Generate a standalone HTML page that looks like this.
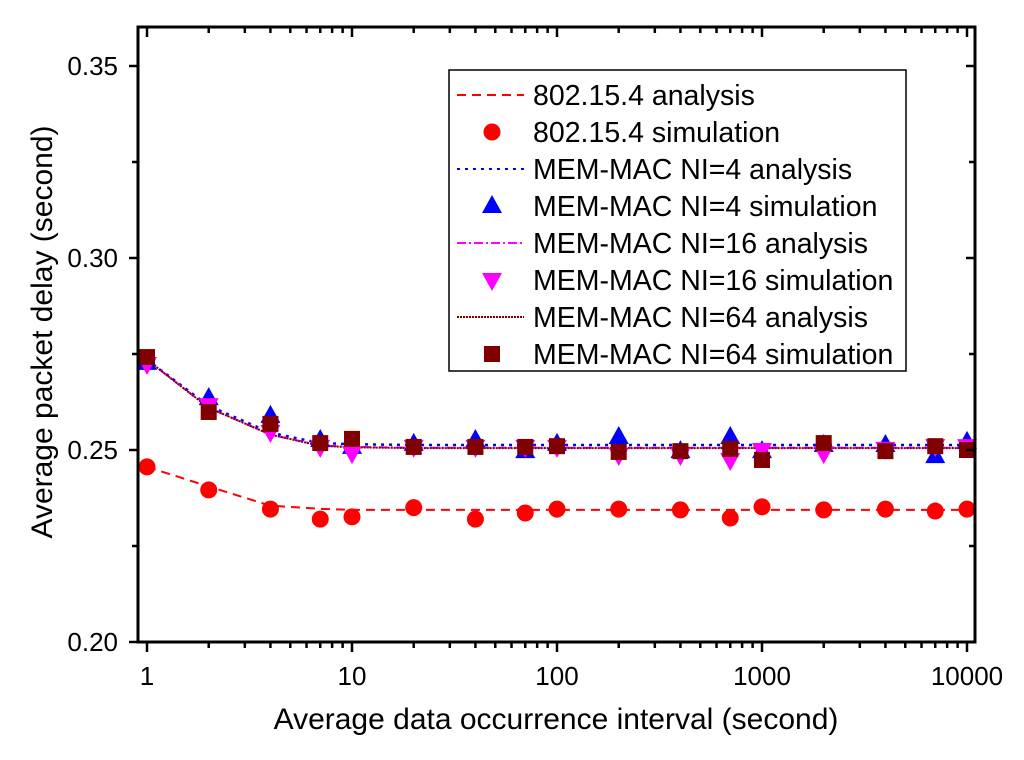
<!DOCTYPE html>
<html><head><meta charset="utf-8"><style>
body{margin:0;background:#fff;}
svg{display:block;font-family:"Liberation Sans",Arial,sans-serif;}
</style></head><body>
<svg id="chart" width="1024" height="760" viewBox="0 0 1024 760">
<g id="marks"></g>
<g id="axes"></g>
<g id="legend"></g>
</svg>
<script>
const xs = [1,2,4,7,10,20,40,70,100,200,400,700,1000,2000,4000,7000,10000];
const redAna = [0.2456,0.2405,0.2355,0.2347,0.2344,0.2344,0.2344,0.2344,0.2344,0.2344,0.2344,0.2344,0.2344,0.2344,0.2344,0.2344,0.2344];
const redSim = [0.2456,0.2396,0.2346,0.2320,0.2326,0.2350,0.2320,0.2336,0.2346,0.2346,0.2344,0.2323,0.2352,0.2344,0.2346,0.2341,0.2346];
const blueAna = [0.2735,0.2615,0.2545,0.2518,0.2515,0.2513,0.2513,0.2513,0.2513,0.2513,0.2513,0.2513,0.2513,0.2513,0.2513,0.2513,0.2513];
const blueSim = [0.2727,0.2635,0.2589,0.2526,0.2508,0.2516,0.2526,0.2497,0.2516,0.2534,0.2497,0.2534,0.2497,0.2513,0.2513,0.2484,0.2521];
const magAna = [0.2735,0.2610,0.2540,0.2512,0.2508,0.2506,0.2506,0.2506,0.2506,0.2506,0.2506,0.2506,0.2506,0.2506,0.2506,0.2506,0.2506];
const magSim = [0.2724,0.2617,0.2547,0.2508,0.2492,0.2508,0.2508,0.2508,0.2508,0.2487,0.2487,0.2474,0.2500,0.2492,0.2503,0.2510,0.2510];
const brnAna = [0.2735,0.2610,0.2540,0.2511,0.2507,0.2505,0.2505,0.2505,0.2505,0.2505,0.2505,0.2505,0.2505,0.2505,0.2505,0.2505,0.2505];
const brnSim = [0.2742,0.2599,0.2568,0.2518,0.2529,0.2508,0.2508,0.2508,0.2510,0.2495,0.2497,0.2503,0.2474,0.2518,0.2497,0.2510,0.2500];
const yTicks = [0.20,0.25,0.30,0.35];
const yTickLabels = ["0.20","0.25","0.30","0.35"];
const xTicks = [1,10,100,1000,10000];
const xTickLabels = ["1","10","100","1000","10000"];

const NS="http://www.w3.org/2000/svg";
const L=138,R=975,T=27,B=642;
function xp(v){return 147+205*Math.log10(v);}
function yp(v){return 450-(v-0.25)*3840;}
function mk(tag,attrs,parent){const e=document.createElementNS(NS,tag);for(const k in attrs)e.setAttribute(k,attrs[k]);parent.appendChild(e);return e;}
const marks=document.getElementById('marks'),axes=document.getElementById('axes'),leg=document.getElementById('legend');

function line(vals,color,dash,w,name){
  const p=xs.map((x,i)=>xp(x).toFixed(1)+','+yp(vals[i]).toFixed(1)).join(' ');
  const e=mk('polyline',{points:p,fill:'none',stroke:color,'stroke-width':w,'stroke-dasharray':dash},marks);
  
  
}
function marker(type,cx,cy,color,parent){
  let e;
  if(type==='circle')e=mk('circle',{cx:cx,cy:cy,r:8.5,fill:color},parent);
  else if(type==='up')e=mk('polygon',{points:`${cx},${cy-11} ${cx-10},${cy+7} ${cx+10},${cy+7}`,fill:color},parent);
  else if(type==='down')e=mk('polygon',{points:`${cx},${cy+11} ${cx-10},${cy-7} ${cx+10},${cy-7}`,fill:color},parent);
  else e=mk('rect',{x:cx-8,y:cy-8,width:16,height:16,fill:color},parent);
  return e;
}
function pts(vals,type,color,name){
  xs.forEach((x,i)=>{
    const e=marker(type,xp(x),yp(vals[i]),color,marks);
    
    
  });
}
line(redAna,'#ff0000','9,6',2,'line-802154-analysis');
line(blueAna,'#0000ff','3,5',2.5,'line-ni4-analysis');
line(magAna,'#ff00ff','9,3,2,3',2,'line-ni16-analysis');
line(brnAna,'#800000','2,1',2,'line-ni64-analysis');
pts(redSim,'circle','#ff0000','point-802154-simulation');
pts(blueSim,'up','#0000ff','point-ni4-simulation');
pts(magSim,'down','#ff00ff','point-ni16-simulation');
pts(brnSim,'square','#800000','point-ni64-simulation');

let f=mk('rect',{x:L,y:T,width:R-L,height:B-T,fill:'none',stroke:'#000','stroke-width':3},axes);


yTicks.forEach((v,i)=>{
  const y=yp(v);
  mk('line',{x1:L-9,y1:y,x2:L,y2:y,stroke:'#000','stroke-width':2.5},axes);
  mk('line',{x1:R,y1:y,x2:R-9,y2:y,stroke:'#000','stroke-width':2.5},axes);
  const t=mk('text',{x:L-20,y:y+9,'text-anchor':'end','font-size':26},axes);
  t.textContent=yTickLabels[i];
  
  
  if(i<yTicks.length-1){
    const ym=yp(v+0.025);
    mk('line',{x1:L-6,y1:ym,x2:L,y2:ym,stroke:'#000','stroke-width':2.5},axes);
    mk('line',{x1:R,y1:ym,x2:R-6,y2:ym,stroke:'#000','stroke-width':2.5},axes);
  }
});
xTicks.forEach((v,i)=>{
  const x=xp(v);
  mk('line',{x1:x,y1:B,x2:x,y2:B+10,stroke:'#000','stroke-width':2.5},axes);
  mk('line',{x1:x,y1:T,x2:x,y2:T+10,stroke:'#000','stroke-width':2.5},axes);
  const t=mk('text',{x:x,y:B+43,'text-anchor':'middle','font-size':26},axes);
  t.textContent=xTickLabels[i];
  
  
  if(i<xTicks.length-1){
    for(let m=2;m<=9;m++){
      const xm=xp(v*m);
      mk('line',{x1:xm,y1:B,x2:xm,y2:B+6,stroke:'#000','stroke-width':2.5},axes);
      mk('line',{x1:xm,y1:T,x2:xm,y2:T+6,stroke:'#000','stroke-width':2.5},axes);
    }
  }
});
let xt=mk('text',{x:556,y:729,'text-anchor':'middle','font-size':30},axes);
xt.textContent='Average data occurrence interval (second)';


let yt=mk('text',{x:0,y:0,'text-anchor':'middle','font-size':30,transform:'translate(52,332) rotate(-90)'},axes);
yt.textContent='Average packet delay (second)';



let lb=mk('rect',{x:449,y:70,width:457,height:301,fill:'#fff',stroke:'#000','stroke-width':1.5},leg);


const legLabels=['802.15.4 analysis','802.15.4 simulation','MEM-MAC NI=4 analysis','MEM-MAC NI=4 simulation','MEM-MAC NI=16 analysis','MEM-MAC NI=16 simulation','MEM-MAC NI=64 analysis','MEM-MAC NI=64 simulation'];
const legSty=[['l','#ff0000','9,6'],['circle','#ff0000'],['l','#0000ff','3,5'],['up','#0000ff'],['l','#ff00ff','9,3,2,3'],['down','#ff00ff'],['l','#800000','2,1'],['square','#800000']];
legLabels.forEach((lab,i)=>{
  const y=95+i*37;
  const g=mk('g',{},leg);
  
  
  const s=legSty[i];
  if(s[0]==='l')mk('line',{x1:457,y1:y,x2:524,y2:y,stroke:s[1],'stroke-width':2,'stroke-dasharray':s[2]},g);
  else marker(s[0],492,y,s[1],g);
  const t=mk('text',{x:533,y:y+10,'font-size':28.5},g);
  t.textContent=lab;
});
</script>
</body></html>
